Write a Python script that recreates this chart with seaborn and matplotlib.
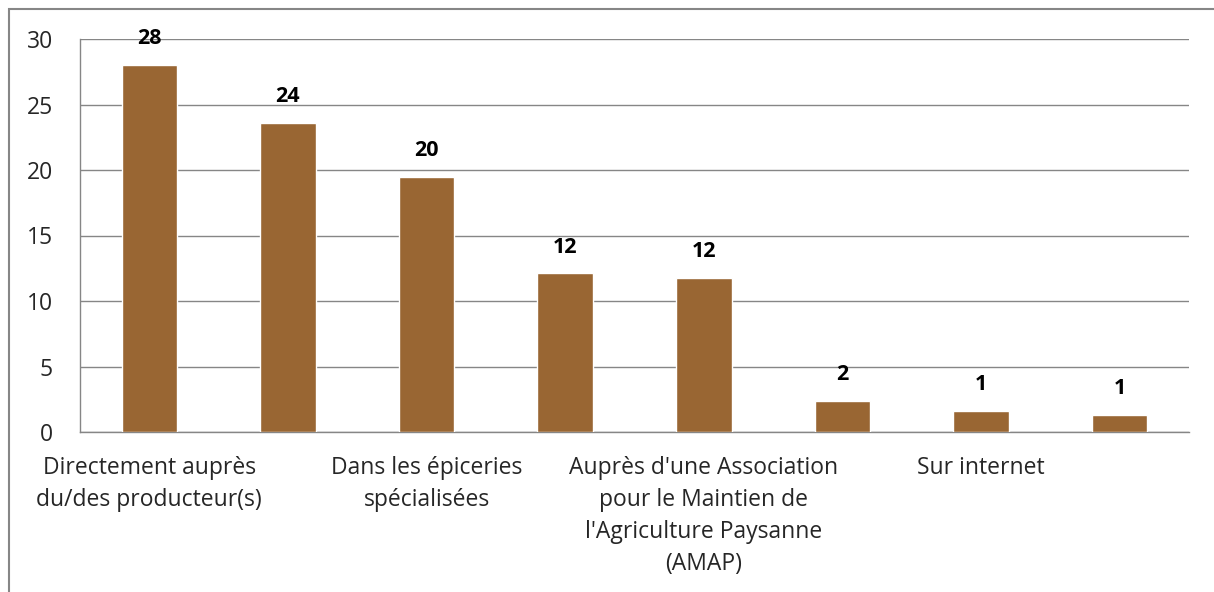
import numpy as np
import pandas as pd
import matplotlib
matplotlib.use('Agg')
import matplotlib.pyplot as plt
import seaborn as sns
from matplotlib.patches import Rectangle

# Values
categories = ["Directement auprès\ndu/des producteur(s)", "",
              "Dans les épiceries\nspécialisées", "",
              "Auprès d'une Association\npour le Maintien de\nl'Agriculture Paysanne\n(AMAP)", "",
              "Sur internet", ""]
values = [28.0, 23.6, 19.5, 12.1, 11.75, 2.35, 1.6, 1.3]
value_labels = ["28", "24", "20", "12", "12", "2", "1", "1"]
y_ticks = [0, 5, 10, 15, 20, 25, 30]

bar_color = "#996633"
grid_color = "#868686"

sns.set_style("white")
plt.rcParams['font.family'] = ['Open Sans', 'DejaVu Sans']

df = pd.DataFrame({"pos": np.arange(len(values)), "value": values})

fig = plt.figure(figsize=(12.14, 5.92), dpi=100)
ax = fig.add_axes([80 / 1214, 1 - 432 / 592, (1189 - 80) / 1214, (432 - 39) / 592])

sns.barplot(data=df, x="pos", y="value", color=bar_color, saturation=1,
            width=0.4, ax=ax, zorder=3)

ax.set_ylim(0, 30)
ax.set_xlim(-0.5, len(values) - 0.5)
ax.set_yticks(y_ticks)
ax.yaxis.grid(True, color=grid_color, linewidth=1)
ax.set_axisbelow(True)
ax.set_xlabel("")
ax.set_ylabel("")

# category labels at bar centres, tick marks at boundaries
ax.set_xticks(np.arange(len(values)))
ax.set_xticklabels(categories, fontsize=16.5, linespacing=1.46)
ax.set_xticks(np.arange(len(values) + 1) - 0.5, minor=True)
ax.tick_params(axis='x', which='major', length=0, pad=17)
ax.tick_params(axis='x', which='minor', length=6.5, width=1, color=grid_color, direction='out')
ax.tick_params(axis='y', length=6.5, width=1, color=grid_color, direction='out', pad=13, labelsize=16.5)

for s in ['top', 'right']:
    ax.spines[s].set_visible(False)
for s in ['left', 'bottom']:
    ax.spines[s].set_color(grid_color)
    ax.spines[s].set_linewidth(1)

for i, (v, lab) in enumerate(zip(values, value_labels)):
    ax.annotate(lab, (i, v), xytext=(0, 19), textcoords='offset points',
                ha='center', va='center', fontsize=15.5, fontweight='bold', color='black')

# outer chart frame
fig.patches.append(Rectangle((9 / 1214, -0.05), 1.1, 1.05 - 9 / 592, transform=fig.transFigure,
                             fill=False, edgecolor=grid_color, linewidth=1.5))

fig.savefig("out.png", dpi=100)
